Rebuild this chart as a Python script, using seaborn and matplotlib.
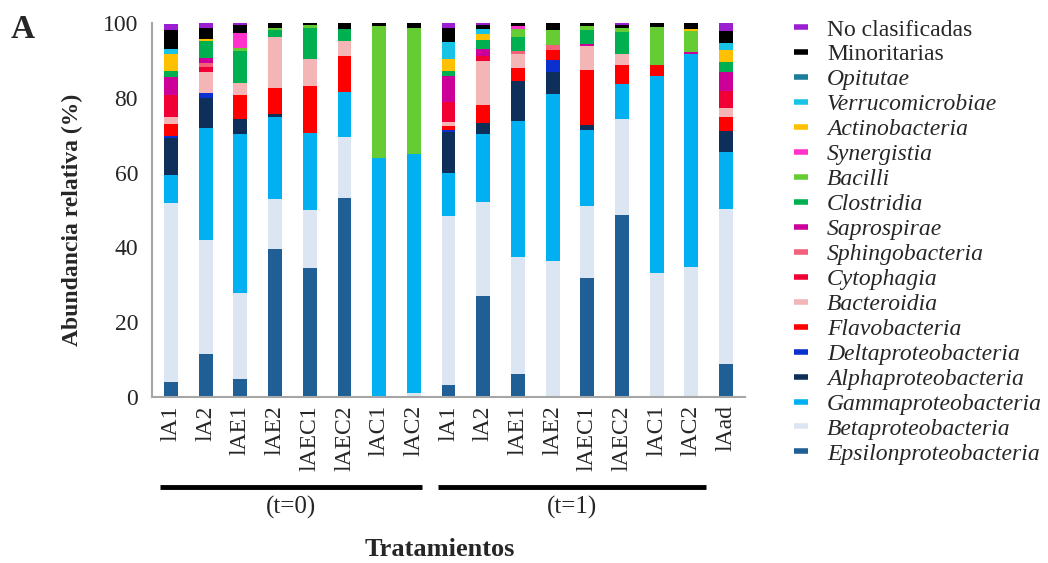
import numpy as np
import pandas as pd
import matplotlib
matplotlib.use("Agg")
import matplotlib.pyplot as plt
from matplotlib.lines import Line2D
import seaborn as sns

# Samples (x axis) and their sampling time
samples = ["lA1", "lA2", "lAE1", "lAE2", "lAEC1", "lAEC2", "lAC1", "lAC2",
           "lA1", "lA2", "lAE1", "lAE2", "lAEC1", "lAEC2", "lAC1", "lAC2", "lAad"]
sample_ids = [f"s{i:02d}" for i in range(len(samples))]
group_labels = ["(t=0)", "(t=1)"]

# Relative abundance (%) per class, stacked bottom -> top
epsilon = [4, 11.5, 4.8, 39.6, 34.5, 53.2, 0, 0, 3.2, 27, 6.1, 0, 31.8, 48.7, 0, 0, 8.8]
beta = [48, 30.5, 23, 13.4, 15.5, 16.3, 0, 1, 45.2, 25.1, 31.3, 36.4, 19.3, 25.6, 33.2, 34.8, 41.5]
gamma = [7.3, 30, 42.5, 22, 20.6, 12, 64, 64, 11.5, 18.2, 36.4, 44.6, 20.3, 9.4, 52.6, 56.9, 15.2]
alpha = [10, 8, 4, 0.7, 0, 0, 0, 0, 11, 2.9, 10.7, 5.9, 1.3, 0, 0, 0, 5.5]
delta = [0.5, 1.3, 0, 0, 0, 0, 0, 0, 0.6, 0, 0, 3.3, 0, 0, 0, 0, 0]
flavo = [3.3, 0, 6.5, 7, 12.5, 9.7, 0, 0, 1, 4.9, 3.5, 2.7, 14.7, 5, 3.1, 0, 4]
bacteroidia = [1.8, 5.5, 3.3, 13.5, 7.3, 3.9, 0, 0, 1, 11.8, 3.6, 0, 6.5, 3, 0, 0, 2.4]
cytophagia = [5.9, 1.5, 0, 0, 0, 0, 0, 0, 5.3, 1.4, 0, 0, 0, 0, 0, 0, 4.3]
sphingo = [0, 1, 0, 0, 0, 0, 0, 0, 0, 0, 0.9, 1.3, 0, 0, 0, 0, 0]
saprospirae = [4.8, 1.3, 0, 0, 0, 0, 0, 0, 7.1, 1.7, 0, 0, 0.6, 0, 0, 0.6, 5.3]
clostridia = [1.6, 4.5, 8.3, 2, 8.3, 3.4, 0, 0, 1.2, 2.5, 3.8, 0, 3.6, 5.9, 0, 0, 2.7]
bacilli = [0, 0, 1, 0.5, 0.7, 0, 35.3, 33.7, 0, 0, 2, 4, 1, 1, 10, 5.5, 0]
synergistia = [0, 0, 4, 0, 0, 0, 0, 0, 0, 0, 0.8, 0, 0, 0, 0, 0, 0]
actino = [4.6, 0.7, 0, 0, 0, 0, 0, 0, 3.3, 1.5, 0, 0, 0, 0, 0, 0.7, 3.1]
verruco = [1.3, 0, 0, 0, 0, 0, 0, 0, 4.5, 1.3, 0, 0, 0, 0, 0, 0, 1.8]
opitutae = [0] * 17
minoritarias = [5.1, 3, 2, 1.3, 0.8, 1.6, 0.7, 1.3, 3.7, 1.2, 1, 2.2, 1.1, 0.9, 1.3, 1.6, 3.3]
no_clasif = [1.6, 1.5, 1, 0, 0, 0, 0, 0, 1.4, 0.6, 0, 0, 0, 0.9, 0, 0, 2.4]

classes = [
    ("Epsilonproteobacteria", epsilon, "#1F5F96", True),
    ("Betaproteobacteria", beta, "#DCE6F2", True),
    ("Gammaproteobacteria", gamma, "#00B0F0", True),
    ("Alphaproteobacteria", alpha, "#0E2F5A", True),
    ("Deltaproteobacteria", delta, "#0A30D0", True),
    ("Flavobacteria", flavo, "#FF0000", True),
    ("Bacteroidia", bacteroidia, "#F4B5B7", True),
    ("Cytophagia", cytophagia, "#F00034", True),
    ("Sphingobacteria", sphingo, "#F2607A", True),
    ("Saprospirae", saprospirae, "#CC0099", True),
    ("Clostridia", clostridia, "#00B050", True),
    ("Bacilli", bacilli, "#66CC33", True),
    ("Synergistia", synergistia, "#FF33CC", True),
    ("Actinobacteria", actino, "#FFC000", True),
    ("Verrucomicrobiae", verruco, "#19C3E6", True),
    ("Opitutae", opitutae, "#1B7C9C", True),
    ("Minoritarias", minoritarias, "#000000", False),
    ("No clasificadas", no_clasif, "#9B1FD1", False),
]

# Long table with cumulative tops for stacking
rows = []
for sid in range(len(samples)):
    cum = 0.0
    for name, vals, color, _ in classes:
        cum += vals[sid]
        rows.append({"sample": sample_ids[sid], "clase": name, "top": cum})
df = pd.DataFrame(rows)

sns.set_style("white")
plt.rcParams["font.family"] = ["Liberation Serif", "DejaVu Serif"]

fig = plt.figure(figsize=(10.48, 5.63), dpi=100)
ax = fig.add_axes([0.145, 0.295, 0.566, 0.664])

# Draw the highest cumulative layer first, lower layers on top of it
for name, vals, color, _ in reversed(classes):
    sub = df[df["clase"] == name]
    sns.barplot(data=sub, x="sample", y="top", order=sample_ids, color=color,
                width=0.4, saturation=1, ax=ax, linewidth=0, errorbar=None)

ax.set_xlim(-0.55, len(samples) - 0.45)
ax.set_ylim(0, 100)
ax.set_xlabel("")
ax.set_ylabel("")

for s in ["top", "right"]:
    ax.spines[s].set_visible(False)
for s in ["left", "bottom"]:
    ax.spines[s].set_color("#A6A6A6")
    ax.spines[s].set_linewidth(1.5)

ax.set_yticks(np.arange(0, 101, 20))
ax.tick_params(axis="y", direction="out", length=5, width=1.2, color="#A6A6A6",
               labelsize=17, pad=5)
ax.set_xticks(range(len(samples)))
ax.set_xticklabels(samples, rotation=90, fontsize=17)
ax.tick_params(axis="x", which="major", length=0, pad=6)
ax.set_xticks(np.arange(-0.5, len(samples), 1), minor=True)
ax.tick_params(axis="x", which="minor", direction="out", length=6, width=1.2,
               color="#A6A6A6")

# Group brackets below the sample labels
trans = ax.get_xaxis_transform()
spans = [(-0.33, 7.24), (7.7, 15.41)]
for (x0, x1), lab in zip(spans, group_labels):
    ax.add_line(Line2D([x0, x1], [-0.24, -0.24], transform=trans, color="black",
                       lw=3.5, clip_on=False, solid_capstyle="butt"))
    ax.text((x0 + x1) / 2, -0.295, lab, transform=trans, ha="center", va="center",
            fontsize=18)

fig.text(440 / 1048, 1 - 549 / 563, "Tratamientos", ha="center", va="center",
         fontsize=19, fontweight="bold")
fig.text(72 / 1048, 1 - 220 / 563, "Abundancia relativa (%)", ha="center",
         va="center", rotation=90, fontsize=17, fontweight="bold")
fig.text(11 / 1048, 1 - 29 / 563, "A", ha="left", va="center", fontsize=24,
         fontweight="bold")

# Legend, top class first
handles, labels = [], []
for name, vals, color, italic in reversed(classes):
    handles.append(Line2D([0], [0], color=color, lw=4, solid_capstyle="butt"))
    labels.append(name)
leg = fig.legend(handles, labels, loc="upper left",
                 bbox_to_anchor=(794 / 1048, 1 - 19 / 563), frameon=False,
                 fontsize=17, handlelength=0.6, handletextpad=0.8,
                 labelspacing=0.145, borderaxespad=0, borderpad=0)
for txt, (name, vals, color, italic) in zip(leg.get_texts(), reversed(classes)):
    if italic:
        txt.set_fontstyle("italic")

fig.savefig("out.png", dpi=100)
